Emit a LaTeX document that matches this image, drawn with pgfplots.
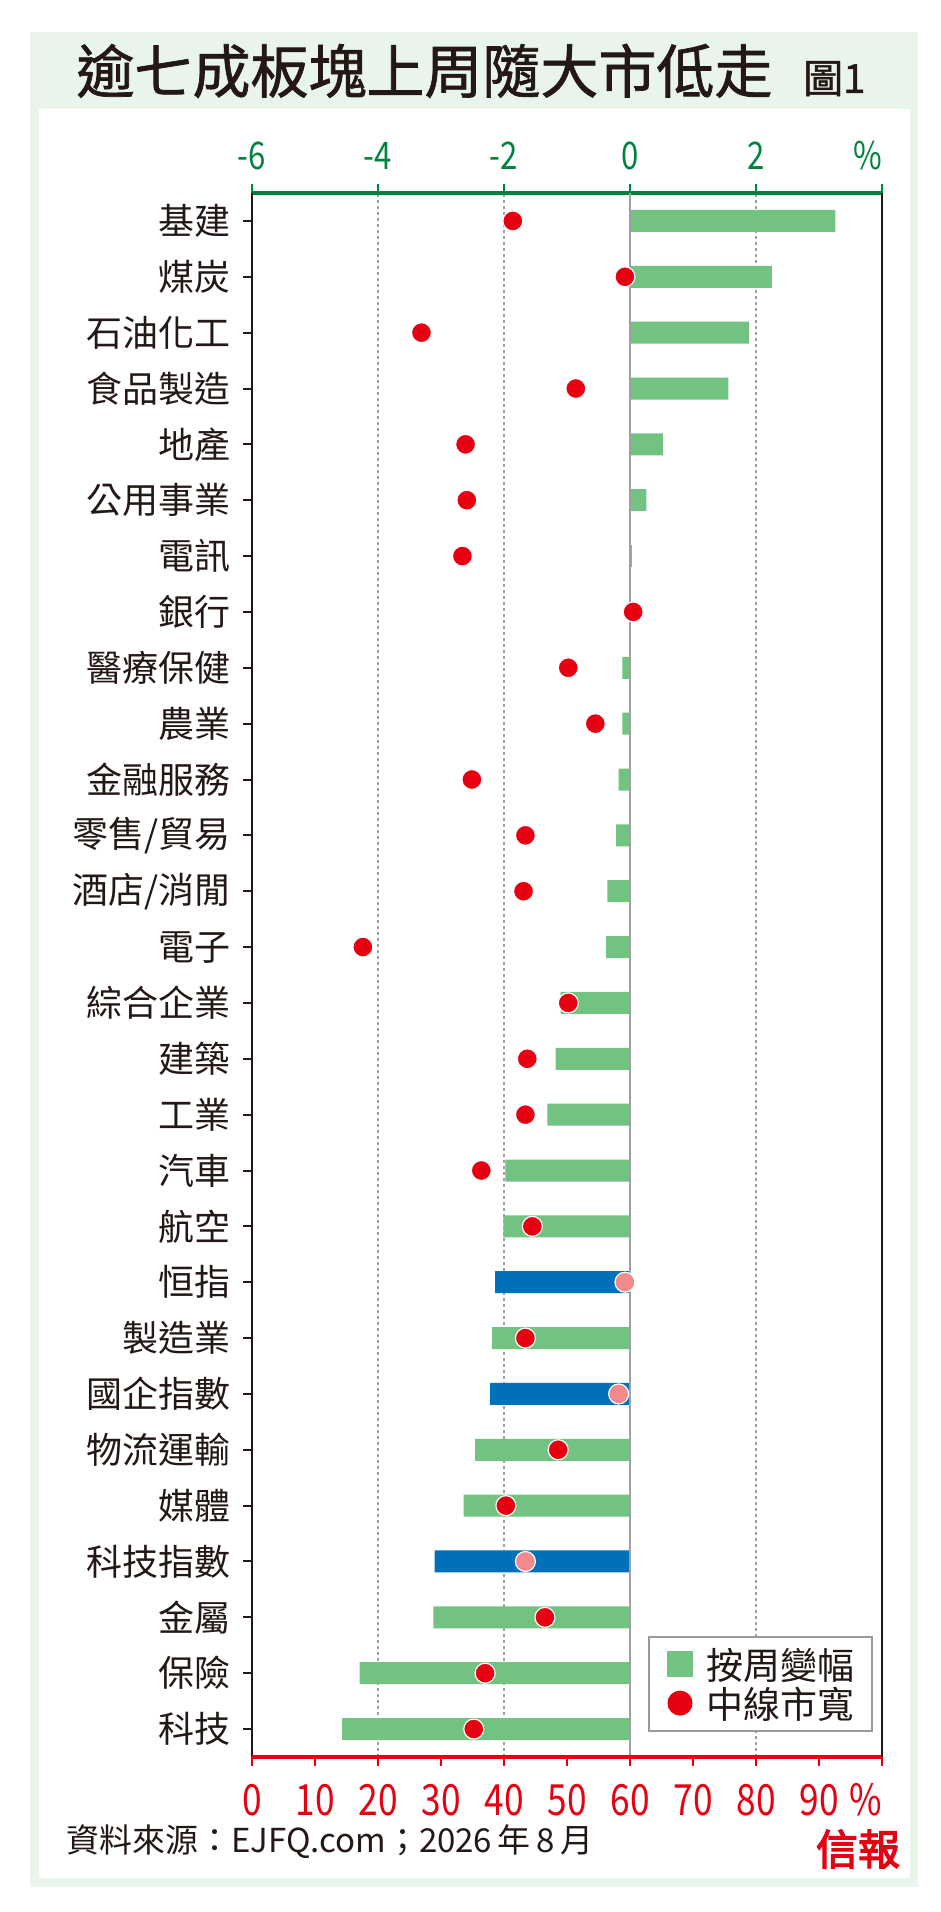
\documentclass[border=0pt]{standalone}
\usepackage{fontspec}
\setmainfont{Noto Sans CJK TC}
\newfontfamily\narrowfont{Noto Sans CJK TC}[FakeStretch=0.82]
\newfontfamily\titlefont{Noto Sans CJK TC}[FakeBold=1.2]
\newfontfamily\logofont{Noto Sans CJK TC}[FakeBold=3]
\usepackage{pgfplots}
\pgfplotsset{compat=1.18}
\usepackage{pgfplotstable}
\definecolor{barG}{HTML}{72C282}
\definecolor{barB}{HTML}{0070B8}
\definecolor{dotR}{HTML}{E60012}
\definecolor{dotP}{HTML}{F08A8C}
\definecolor{axG}{HTML}{00843D}
\definecolor{axR}{HTML}{E60012}
\definecolor{bgG}{HTML}{E9F4EA}
\definecolor{gridC}{HTML}{A0A0A0}
\definecolor{frameK}{HTML}{231815}
\definecolor{legC}{HTML}{9A9A9A}

% weekly change (%), sectors; y = 27 at top
\pgfplotstableread{
y v
27 3.26
26 2.25
25 1.89
24 1.56
23 0.52
22 0.26
21 0.03
20 0.00
19 -0.12
18 -0.12
17 -0.18
16 -0.22
15 -0.36
14 -0.38
13 -1.10
12 -1.18
11 -1.31
10 -1.98
9 -2.01
7 -2.19
5 -2.46
4 -2.64
2 -3.12
1 -4.29
0 -4.57
}\greenbars
% weekly change (%), indices
\pgfplotstableread{
y v
8 -2.14
6 -2.22
3 -3.10
}\bluebars
% medium-term market breadth (%), sectors
\pgfplotstableread{
y b
27 41.4
26 59.2
25 26.9
24 51.4
23 33.9
22 34.1
21 33.4
20 60.5
19 50.2
18 54.5
17 34.9
16 43.4
15 43.1
14 17.6
13 50.2
12 43.7
11 43.4
10 36.4
9 44.5
7 43.4
5 48.6
4 40.3
2 46.5
1 37.0
0 35.2
}\reddots
% medium-term market breadth (%), indices
\pgfplotstableread{
y b
8 59.2
6 58.2
3 43.4
}\pinkdots

\begin{document}
\begin{tikzpicture}[x=1pt,y=1pt]
\useasboundingbox (0,0) rectangle (941,1912);
\fill[bgG] (30,25) rectangle (918,1880);
\fill[white] (39,34) rectangle (910,1803);
\node[anchor=base, inner sep=0pt, font=\titlefont\fontsize{58}{60}\selectfont, text=frameK] at (424.5,1819) {逾七成板塊上周隨大市低走};
\node[anchor=base west, inner sep=0pt, font=\titlefont\fontsize{40}{40}\selectfont, text=frameK] at (803,1819) {圖1};

\begin{axis}[
  at={(252pt,155pt)}, anchor=south west,
  scale only axis, width=630pt, height=1564pt,
  xmin=-6, xmax=4, ymin=-0.5, ymax=27.5,
  axis x line=top, axis y line=left,
  x axis line style={-, draw=axG, line width=3.3pt},
  y axis line style={-, draw=frameK, line width=2pt},
  tick align=outside, major tick length=9pt,
  xtick={-6,-4,-2,0,2,4}, xticklabels={-6,-4,-2,0,2,\makebox[0pt][r]{\%}},
  x tick style={axG, line width=2pt},
  xticklabel style={anchor=base, yshift=15pt, inner sep=0pt, text=axG, font=\narrowfont\fontsize{38}{38}\selectfont},
  ytick={0,...,27},
  yticklabels={科技,保險,金屬,科技指數,媒體,物流運輸,國企指數,製造業,恒指,航空,汽車,工業,建築,綜合企業,電子,酒店/消閒,零售/貿易,金融服務,農業,醫療保健,銀行,電訊,公用事業,地產,食品製造,石油化工,煤炭,基建},
  y tick style={frameK, line width=2pt},
  yticklabel style={anchor=east, xshift=-12pt, inner sep=0pt, text=frameK, font=\fontsize{36}{36}\selectfont},
  xmajorgrids=true,
  grid style={dashed, gridC, line width=1.3pt},
]
\addplot[xbar, bar width=22pt, bar shift=0pt, fill=barG, draw=none] table[x=v, y=y] {\greenbars};
\addplot[xbar, bar width=22pt, bar shift=0pt, fill=barB, draw=none] table[x=v, y=y] {\bluebars};
\draw[gridC, line width=2pt] (axis cs:0,-0.5) -- (axis cs:0,27.5);
\end{axis}

\begin{axis}[
  at={(252pt,155pt)}, anchor=south west,
  scale only axis, width=630pt, height=1564pt,
  xmin=0, xmax=100, ymin=-0.5, ymax=27.5,
  axis x line=bottom, axis y line=right,
  x axis line style={-, draw=axR, line width=3.3pt},
  y axis line style={-, draw=frameK, line width=2pt},
  tick align=outside, major tick length=9pt,
  xtick={0,10,20,30,40,50,60,70,80,90,100},
  xticklabels={0,10,20,30,40,50,60,70,80,90,\makebox[0pt][r]{\%}},
  x tick style={axR, line width=2pt},
  xticklabel style={anchor=base, yshift=-50pt, inner sep=0pt, text=axR, font=\narrowfont\fontsize{43}{43}\selectfont},
  ytick=\empty,
  legend style={at={(axis description cs:0.6286,0.0774)}, anchor=north west,
    draw=legC, line width=2pt, fill=white,
    inner xsep=18pt, inner ysep=11pt, row sep=6pt,
    nodes={inner sep=0pt}, column sep=13pt,
    font=\fontsize{37}{37}\selectfont, text=frameK},
  legend cell align=left,
]
\addlegendimage{legend image code/.code={\fill[barG] (0pt,-12pt) rectangle (24pt,12pt);}}
\addlegendentry{按周變幅}
\addplot[only marks, mark=*, mark size=10pt, mark options={fill=dotR, draw=white, line width=1.2pt},
  legend image code/.code={\fill[dotR] (12pt,0pt) circle (11.5pt);}] table[x=b, y=y] {\reddots};
\addlegendentry{中線市寬}
\addplot[only marks, mark=*, mark size=10pt, mark options={fill=dotP, draw=white, line width=1.2pt}, forget plot] table[x=b, y=y] {\pinkdots};
\end{axis}

\node[anchor=base west, inner sep=0pt, font=\fontsize{33}{34}\selectfont, text=frameK] at (66,59) {資料來源：EJFQ.com；2026\,年\,8\,月};
\node[anchor=center, inner sep=0pt, font=\logofont\fontsize{42}{42}\selectfont, text=dotR] at (858,63) {信報};
\end{tikzpicture}
\end{document}
